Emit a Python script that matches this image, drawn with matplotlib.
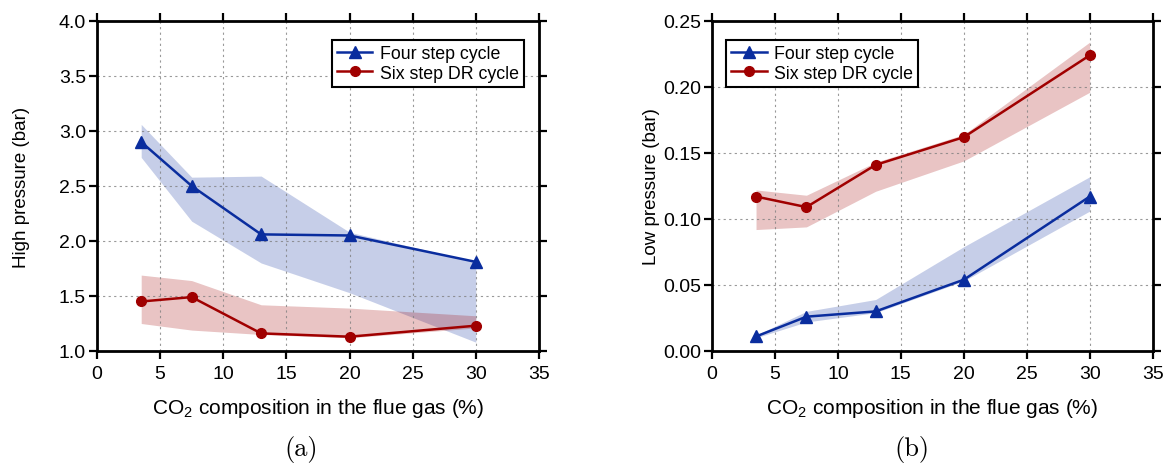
import numpy as np
import matplotlib
matplotlib.use("Agg")
import matplotlib.pyplot as plt

plt.rcParams["font.family"] = ["Liberation Sans", "DejaVu Sans"]
plt.rcParams["mathtext.fontset"] = "custom"
plt.rcParams["mathtext.rm"] = "Liberation Sans"

# CO2 composition in the flue gas (%)
co2 = [3.5, 7.5, 13, 20, 30]

# (a) high pressure
hp_four = [2.90, 2.50, 2.06, 2.05, 1.81]
hp_four_hi = [3.06, 2.58, 2.59, 2.08, 1.81]
hp_four_lo = [2.76, 2.18, 1.80, 1.53, 1.08]
hp_six = [1.45, 1.49, 1.16, 1.13, 1.23]
hp_six_hi = [1.69, 1.64, 1.42, 1.39, 1.32]
hp_six_lo = [1.25, 1.19, 1.15, 1.12, 1.21]

# (b) low pressure
lp_four = [0.011, 0.026, 0.030, 0.054, 0.117]
lp_four_hi = [0.012, 0.030, 0.039, 0.079, 0.132]
lp_four_lo = [0.010, 0.022, 0.029, 0.053, 0.106]
lp_six = [0.117, 0.109, 0.141, 0.162, 0.224]
lp_six_hi = [0.122, 0.118, 0.143, 0.164, 0.234]
lp_six_lo = [0.092, 0.094, 0.121, 0.144, 0.196]

blue = "#0a2d9e"
red = "#a00000"

fig = plt.figure(figsize=(11.66, 4.64), dpi=100)
ax1 = fig.add_axes([0.0832, 0.2414, 0.379, 0.7112])
ax2 = fig.add_axes([0.6106, 0.2414, 0.378, 0.7112])


def draw(ax, four, four_hi, four_lo, six, six_hi, six_lo):
    # shaded ranges first, then the lines with markers on top
    ax.fill_between(co2, four_lo, four_hi, color=blue, alpha=0.23, linewidth=0)
    ax.fill_between(co2, six_lo, six_hi, color=red, alpha=0.23, linewidth=0)
    ax.plot(co2, four, color=blue, marker="^", markersize=8.5, linewidth=1.8,
            label="Four step cycle")
    ax.plot(co2, six, color=red, marker="o", markersize=7, linewidth=1.8,
            label="Six step DR cycle")
    ax.set_xlim(0, 35)
    ax.set_xticks(range(0, 36, 5))
    ax.grid(True, linestyle=(0, (2, 3)), color="gray", linewidth=0.8, alpha=0.8)
    ax.tick_params(direction="out", length=6, width=1.6, top=True, right=True,
                   labelsize=14)
    ax.tick_params(axis="x", pad=4)
    ax.tick_params(axis="y", pad=2)
    for s in ax.spines.values():
        s.set_linewidth(2)
    ax.set_xlabel("CO$_2$ composition in the flue gas (%)", fontsize=15, labelpad=10)


draw(ax1, hp_four, hp_four_hi, hp_four_lo, hp_six, hp_six_hi, hp_six_lo)
ax1.set_ylim(1.0, 4.0)
ax1.set_yticks(np.arange(1.0, 4.01, 0.5))
ax1.yaxis.set_major_formatter(matplotlib.ticker.FormatStrFormatter("%.1f"))
ax1.set_ylabel("High pressure (bar)", fontsize=13.5)
ax1.yaxis.set_label_coords(-0.152, 0.5)
leg1 = ax1.legend(loc="upper right", fontsize=12.8, fancybox=False, edgecolor="black",
                  framealpha=1, borderpad=0.3, labelspacing=0.12, handlelength=2.0,
                  handletextpad=0.4, borderaxespad=0, bbox_to_anchor=(0.966, 0.942))
leg1.get_frame().set_linewidth(1.5)

draw(ax2, lp_four, lp_four_hi, lp_four_lo, lp_six, lp_six_hi, lp_six_lo)
ax2.set_ylim(0.0, 0.25)
ax2.set_yticks(np.arange(0.0, 0.251, 0.05))
ax2.yaxis.set_major_formatter(matplotlib.ticker.FormatStrFormatter("%.2f"))
ax2.set_ylabel("Low pressure (bar)", fontsize=13.5)
ax2.yaxis.set_label_coords(-0.118, 0.5)
leg2 = ax2.legend(loc="upper left", fontsize=12.8, fancybox=False, edgecolor="black",
                  framealpha=1, borderpad=0.3, labelspacing=0.12, handlelength=2.0,
                  handletextpad=0.4, borderaxespad=0, bbox_to_anchor=(0.032, 0.942))
leg2.get_frame().set_linewidth(1.5)

fig.text(0.258, 0.018, "(a)", fontsize=19, family="cmr10", ha="center")
fig.text(0.782, 0.018, "(b)", fontsize=19, family="cmr10", ha="center")

fig.savefig("out.png", dpi=100)
